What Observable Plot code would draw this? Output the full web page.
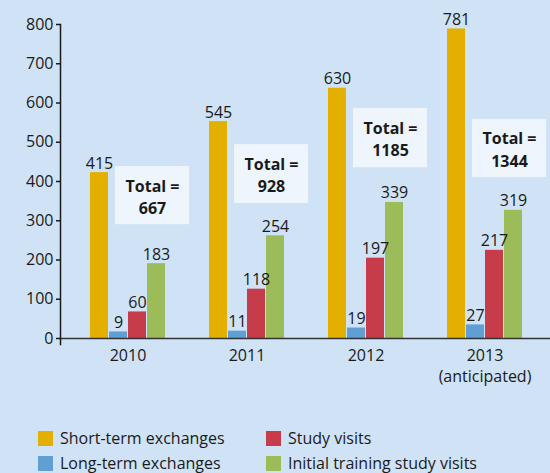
<!DOCTYPE html>
<html>
<head>
<meta charset="utf-8">
<script src="https://cdn.jsdelivr.net/npm/d3@7"></script>
<script src="https://cdn.jsdelivr.net/npm/@observablehq/plot@0.6"></script>
<style>
  html, body { margin: 0; padding: 0; background: #cfe2f6; }
  body { width: 550px; height: 473px; position: relative; overflow: hidden; font-family: "Open Sans", "Noto Sans", sans-serif; color: #1a1a1a; }
  #chart svg { display: block; }
  .legend { position: absolute; left: 38px; top: 429px; display: grid; grid-template-columns: 228px 260px; row-gap: 7px; font-size: 16px; }
  .legend div { display: flex; align-items: center; height: 18px; }
  .legend span.sw { width: 15px; height: 15px; margin-right: 7px; display: inline-block; }
</style>
</head>
<body>
<div id="chart"></div>
<div class="legend" id="legend"></div>
<script>
const years = ["2010", "2011", "2012", "2013"];
const yearLabels = ["2010", "2011", "2012", "2013\n(anticipated)"];
const seriesNames = ["Short-term exchanges", "Long-term exchanges", "Study visits", "Initial training study visits"];
const seriesColors = ["#e4b000", "#5f9fd3", "#c63c4a", "#9cbb59"];
const shortTerm = [415, 545, 630, 781];
const longTerm = [9, 11, 19, 27];
const studyVisits = [60, 118, 197, 217];
const initialTraining = [183, 254, 339, 319];
const totals = [667, 928, 1185, 1344];
// vertical placement (in value units) of the "Total =" boxes
const boxTop = [438, 494, 586, 558];
const boxBottom = [290, 344, 435, 410];
const yTicks = [0, 100, 200, 300, 400, 500, 600, 700, 800];

const seriesValues = [shortTerm, longTerm, studyVisits, initialTraining];
const rows = [];
seriesValues.forEach((vals, si) => {
  vals.forEach((v, yi) => rows.push({year: years[yi], series: seriesNames[si], si, value: v}));
});
const boxes = years.map((y, i) => ({year: y, total: totals[i], top: boxTop[i], bottom: boxBottom[i], mid: (boxTop[i] + boxBottom[i]) / 2}));

const bandwidth = 119, barW = 18, barStep = 19, firstOff = 22;
const barMarks = [];
const labelMarks = [];
seriesNames.forEach((name, si) => {
  const left = firstOff + si * barStep;
  const right = bandwidth - left - barW;
  const data = rows.filter(d => d.si === si);
  barMarks.push(Plot.barY(data, {x: "year", y: "value", fill: seriesColors[si], insetLeft: left, insetRight: right, insetTop: -3}));
  labelMarks.push(Plot.text(data, {x: "year", y: "value", text: d => String(d.value), dx: left + barW / 2 - bandwidth / 2, dy: -7, lineAnchor: "bottom", fontSize: 16, fill: "#1a1a1a"}));
});

const plot = Plot.plot({
  width: 550,
  height: 420,
  marginLeft: 60,
  marginRight: 0,
  marginTop: 24,
  marginBottom: 82,
  style: {background: "transparent", fontFamily: "'Open Sans', 'Noto Sans', sans-serif", color: "#1a1a1a", fontSize: "16px"},
  x: {domain: years, padding: 0, insetLeft: 8, insetRight: 6},
  y: {domain: [0, 800]},
  marks: [
    ...barMarks,
    Plot.barY(boxes, {x: "year", y1: "bottom", y2: "top", fill: "#eef5fd", insetLeft: 47, insetRight: -2}),
    Plot.text(boxes, {x: "year", y: "mid", text: d => "Total =\n" + d.total, dx: 24.5, fontSize: 16, fontWeight: "bold", lineHeight: 1.4, fill: "#1a1a1a"}),
    ...labelMarks,
    Plot.axisX({label: null, tickSize: 0, tickPadding: 8, fontSize: 16, lineHeight: 1.3, tickFormat: d => yearLabels[years.indexOf(d)]}),
    Plot.axisY({ticks: yTicks, label: null, tickSize: 4, tickPadding: 3, fontSize: 16, strokeWidth: 1.5}),
    Plot.ruleY([0], {stroke: "#333", strokeWidth: 1.5}),
    Plot.frame({anchor: "left", stroke: "#1a1a1a", strokeWidth: 1.5, insetBottom: -6})
  ]
});
document.getElementById("chart").appendChild(plot);

const legend = document.getElementById("legend");
const order = [0, 2, 1, 3];
order.forEach(i => {
  const div = document.createElement("div");
  div.innerHTML = `<span class="sw" style="background:${seriesColors[i]}"></span>${seriesNames[i]}`;
  legend.appendChild(div);
});
</script>
</body>
</html>
